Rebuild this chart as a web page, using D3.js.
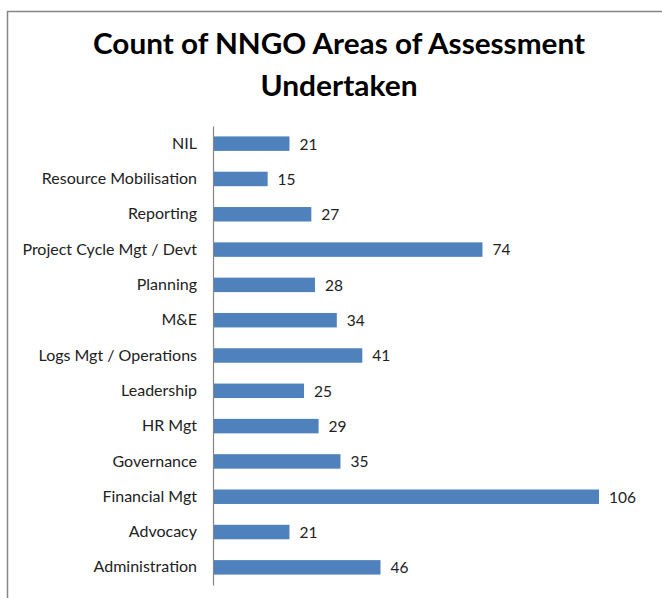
<!DOCTYPE html>
<html>
<head>
<meta charset="utf-8">
<script src="https://cdn.jsdelivr.net/npm/d3@7"></script>
<style>
  html, body { margin: 0; padding: 0; background: #fff; }
  svg { display: block; }
</style>
</head>
<body>
<svg id="chart" width="662" height="598"></svg>
<script>
const categories = ["NIL", "Resource Mobilisation", "Reporting", "Project Cycle Mgt / Devt", "Planning", "M&E", "Logs Mgt / Operations", "Leadership", "HR Mgt", "Governance", "Financial Mgt", "Advocacy", "Administration"];
const values = [21, 15, 27, 74, 28, 34, 41, 25, 29, 35, 106, 21, 46];
const titleLines = ["Count of NNGO Areas of Assessment", "Undertaken"];

(function () {
const svg = d3.select("#chart");
const W = 662, H = 598;

// chart frame (extends past the right and bottom edges)
svg.append("rect")
  .attr("x", 7.5).attr("y", 11.5)
  .attr("width", W + 10).attr("height", H + 10)
  .attr("fill", "#fff")
  .attr("stroke", "#868686").attr("stroke-width", 1.5);

// title
const title = svg.append("text")
  .attr("text-anchor", "middle")
  .attr("font-family", "Lato, 'Open Sans', sans-serif")
  .attr("font-weight", "bold")
  .attr("font-size", 29)
  .attr("fill", "#000");
title.append("tspan").attr("x", 339).attr("y", 54).text(titleLines[0])
  .attr("textLength", 492).attr("lengthAdjust", "spacingAndGlyphs");
title.append("tspan").attr("x", 339).attr("y", 96).text(titleLines[1])
  .attr("textLength", 157).attr("lengthAdjust", "spacingAndGlyphs");

const x0 = 213, plotTop = 126, plotBottom = 585;
const x = d3.scaleLinear().domain([0, 106]).range([x0, x0 + 386]);
const y = d3.scaleBand().domain(categories).range([plotTop, plotBottom]).paddingInner(0.59).paddingOuter(0.295);

const g = svg.append("g");

g.selectAll("rect.bar")
  .data(categories)
  .join("rect")
  .attr("class", "bar")
  .attr("x", x(0))
  .attr("y", d => y(d))
  .attr("width", (d, i) => x(values[i]) - x(0))
  .attr("height", y.bandwidth())
  .attr("fill", "#4F81BD");

// category axis
const yAxis = d3.axisLeft(y).tickSize(0).tickPadding(16);
const ax = g.append("g").attr("transform", `translate(${x0},0)`).call(yAxis);
ax.select(".domain").attr("stroke", "#868686").attr("stroke-width", 1.2);
ax.selectAll("text")
  .attr("font-family", "Lato, 'Open Sans', sans-serif")
  .attr("font-size", 16)
  .attr("fill", "#222");

// value labels
g.selectAll("text.val")
  .data(categories)
  .join("text")
  .attr("class", "val")
  .attr("x", (d, i) => x(values[i]) + 10)
  .attr("y", d => y(d) + y.bandwidth() / 2)
  .attr("dy", "0.38em")
  .attr("font-family", "Lato, 'Open Sans', sans-serif")
  .attr("font-size", 15.5)
  .attr("fill", "#222")
  .text((d, i) => values[i]);
})();
</script>
</body>
</html>
